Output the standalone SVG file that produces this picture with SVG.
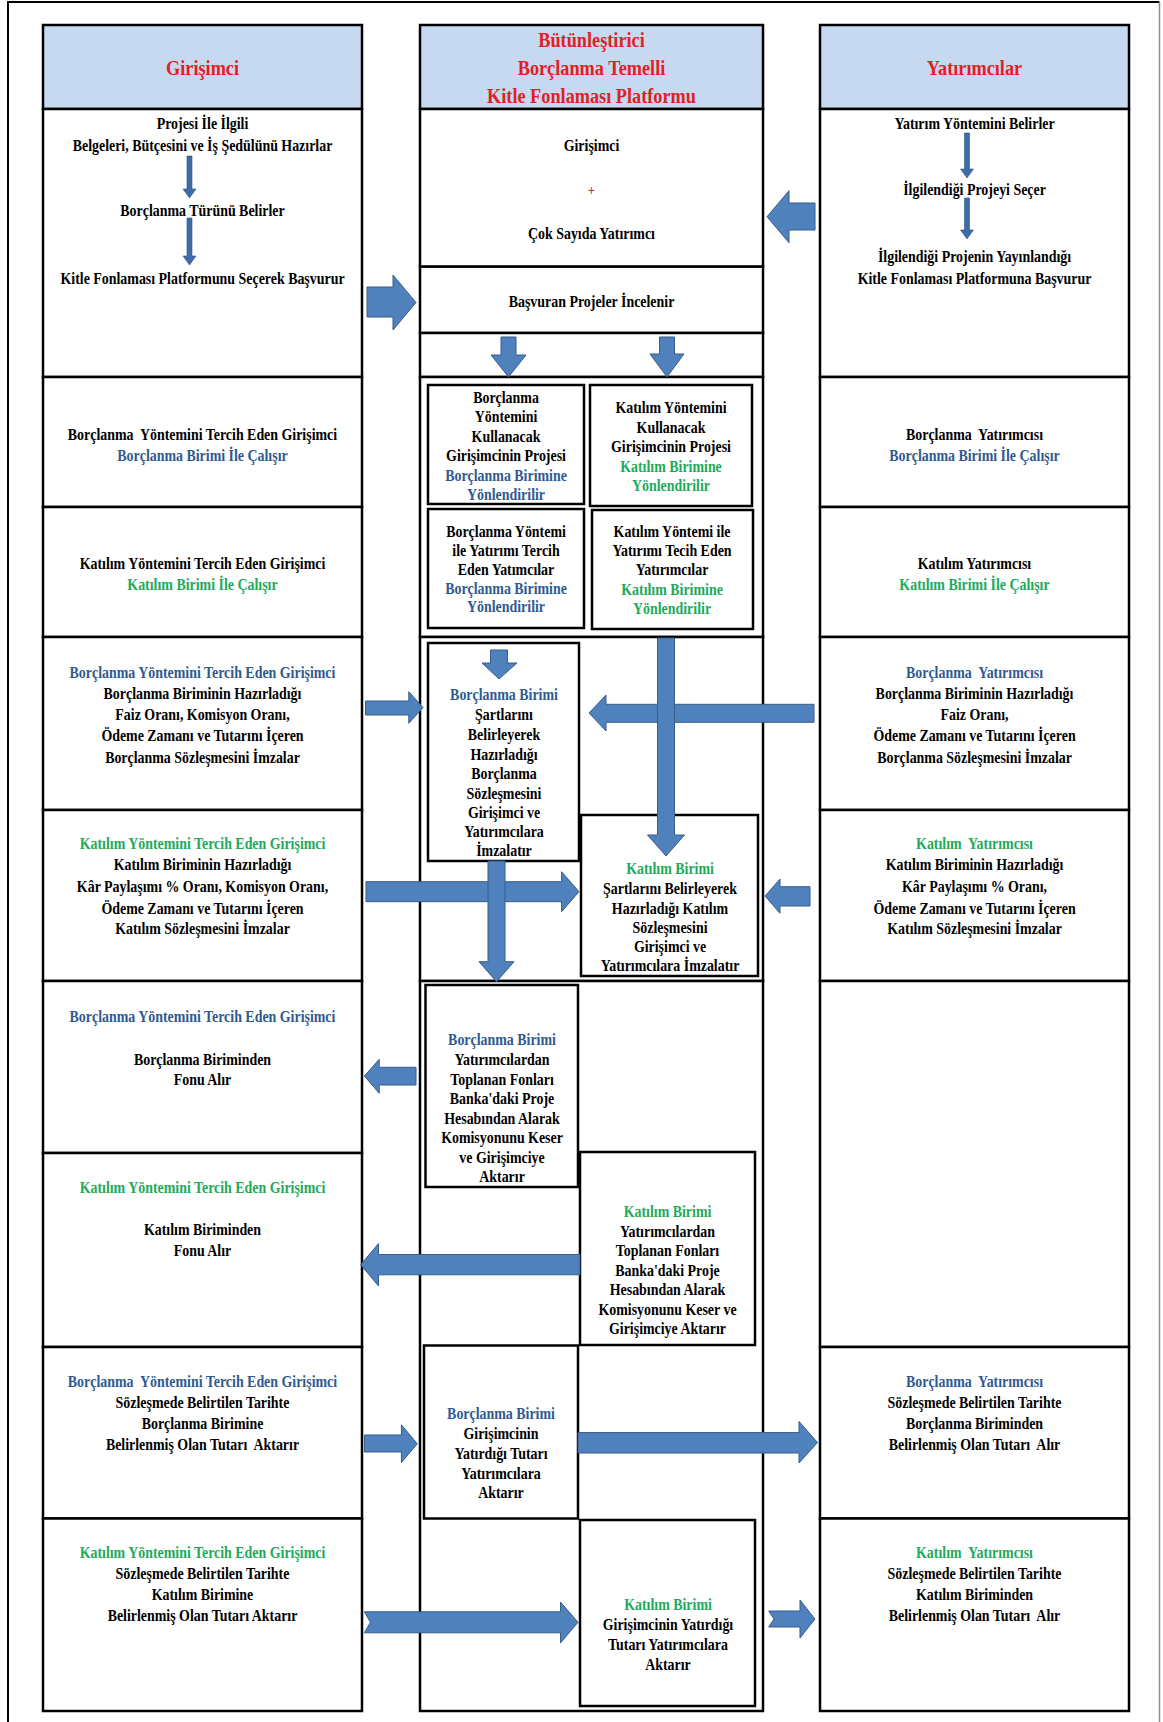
<svg xmlns="http://www.w3.org/2000/svg" width="1163" height="1722" viewBox="0 0 1163 1722">
<style>
.box{fill:#fff;stroke:#000;stroke-width:2.5}
.ibox{fill:#fff;stroke:#000;stroke-width:2.5}
.hdr{fill:#C6D9F1;stroke:#000;stroke-width:2.5}
.arr{fill:#4F81BD;stroke:#385D8A;stroke-width:1}
.thin{fill:#3D6CA6;stroke:#2F5687;stroke-width:0.6}
text{font-family:"Liberation Serif","Times New Roman",serif;font-weight:bold;font-size:16px;fill:#000;text-anchor:middle;transform-box:fill-box;transform-origin:center;transform:scaleX(0.87)}
.h{font-size:21px;fill:#E31E24}
.plus{font-size:14px;fill:#E31E24}
.b{fill:#2F5A8F}
.g{fill:#1DAA5C}
</style>
<rect width="1163" height="1722" fill="#fff"/>
<path d="M8 1722V2H1159.5" fill="none" stroke="#000" stroke-width="2"/>
<path d="M1159.5 2V1722" fill="none" stroke="#8c8c8c" stroke-width="1.5"/>

<g id="left-col">
<g id="left-header"><rect class="hdr" x="43" y="25" width="319" height="84"/><text class="h" x="202.5" y="75.5">Girişimci</text></g>
<g id="left-r1"><rect class="box" x="43" y="109" width="319" height="268"/>
<text><tspan x="202.5" y="129.5">Projesi İle İlgili</tspan><tspan x="202.5" y="151">Belgeleri, Bütçesini ve İş Şedülünü Hazırlar</tspan><tspan x="202.5" y="216">Borçlanma Türünü Belirler</tspan><tspan x="202.5" y="284">Kitle Fonlaması Platformunu Seçerek Başvurur</tspan></text></g>
<g id="left-r2"><rect class="box" x="43" y="377" width="319" height="130"/>
<text><tspan x="202.5" y="440.5">Borçlanma&#160; Yöntemini Tercih Eden Girişimci</tspan><tspan class="b" x="202.5" y="461.5">Borçlanma Birimi İle Çalışır</tspan></text></g>
<g id="left-r3"><rect class="box" x="43" y="507" width="319" height="130"/>
<text><tspan x="202.5" y="569">Katılım Yöntemini Tercih Eden Girişimci</tspan><tspan class="g" x="202.5" y="590">Katılım Birimi İle Çalışır</tspan></text></g>
<g id="left-r4"><rect class="box" x="43" y="637" width="319" height="173"/>
<text><tspan class="b" x="202.5" y="678">Borçlanma Yöntemini Tercih Eden Girişimci</tspan><tspan x="202.5" y="699">Borçlanma Biriminin Hazırladığı</tspan><tspan x="202.5" y="720.5">Faiz Oranı, Komisyon Oranı,</tspan><tspan x="202.5" y="741.5">Ödeme Zamanı ve Tutarını İçeren</tspan><tspan x="202.5" y="763">Borçlanma Sözleşmesini İmzalar</tspan></text></g>
<g id="left-r5"><rect class="box" x="43" y="810" width="319" height="171"/>
<text><tspan class="g" x="202.5" y="849">Katılım Yöntemini Tercih Eden Girişimci</tspan><tspan x="202.5" y="870.5">Katılım Biriminin Hazırladığı</tspan><tspan x="202.5" y="892">Kâr Paylaşımı % Oranı, Komisyon Oranı,</tspan><tspan x="202.5" y="914">Ödeme Zamanı ve Tutarını İçeren</tspan><tspan x="202.5" y="934.5">Katılım Sözleşmesini İmzalar</tspan></text></g>
<g id="left-r6"><rect class="box" x="43" y="981" width="319" height="172"/>
<text><tspan class="b" x="202.5" y="1022">Borçlanma Yöntemini Tercih Eden Girişimci</tspan><tspan x="202.5" y="1065">Borçlanma Biriminden</tspan><tspan x="202.5" y="1085.5">Fonu Alır</tspan></text></g>
<g id="left-r7"><rect class="box" x="43" y="1153" width="319" height="194"/>
<text><tspan class="g" x="202.5" y="1193">Katılım Yöntemini Tercih Eden Girişimci</tspan><tspan x="202.5" y="1235.5">Katılım Biriminden</tspan><tspan x="202.5" y="1256.5">Fonu Alır</tspan></text></g>
<g id="left-r8"><rect class="box" x="43" y="1347" width="319" height="171.5"/>
<text><tspan class="b" x="202.5" y="1387">Borçlanma&#160; Yöntemini Tercih Eden Girişimci</tspan><tspan x="202.5" y="1408.5">Sözleşmede Belirtilen Tarihte</tspan><tspan x="202.5" y="1429.5">Borçlanma Birimine</tspan><tspan x="202.5" y="1450.5">Belirlenmiş Olan Tutarı&#160; Aktarır</tspan></text></g>
<g id="left-r9"><rect class="box" x="43" y="1518.5" width="319" height="192.5"/>
<text><tspan class="g" x="202.5" y="1558">Katılım Yöntemini Tercih Eden Girişimci</tspan><tspan x="202.5" y="1579.5">Sözleşmede Belirtilen Tarihte</tspan><tspan x="202.5" y="1600">Katılım Birimine</tspan><tspan x="202.5" y="1621.5">Belirlenmiş Olan Tutarı Aktarır</tspan></text></g>
</g>

<g id="mid-col">
<g id="mid-header"><rect class="hdr" x="420" y="25" width="343" height="84"/>
<text class="h"><tspan x="591.5" y="47">Bütünleştirici</tspan><tspan x="591.5" y="75.5">Borçlanma Temelli</tspan><tspan x="591.5" y="103">Kitle Fonlaması Platformu</tspan></text></g>
<g id="mid-platform"><rect class="box" x="420" y="109" width="343" height="157.7"/>
<text><tspan x="591.5" y="151">Girişimci</tspan><tspan class="plus" x="591.5" y="195">+</tspan><tspan x="591.5" y="239">Çok Sayıda Yatırımcı</tspan></text></g>
<g id="mid-review"><rect class="box" x="420" y="266.7" width="343" height="66.3"/>
<text x="591.5" y="307">Başvuran Projeler İncelenir</text></g>
<g id="mid-split"><rect class="box" x="420" y="333" width="343" height="44"/></g>
<g id="mid-frame2"><rect class="box" x="420" y="377" width="343" height="260"/></g>
<g id="mid-b-project"><rect class="ibox" x="428" y="385" width="156" height="119"/>
<text><tspan x="506" y="403">Borçlanma</tspan><tspan x="506" y="422">Yöntemini</tspan><tspan x="506" y="442">Kullanacak</tspan><tspan x="506" y="461.5">Girişimcinin Projesi</tspan><tspan class="b" x="506" y="481.5">Borçlanma Birimine</tspan><tspan class="b" x="506" y="500.5">Yönlendirilir</tspan></text></g>
<g id="mid-k-project"><rect class="ibox" x="590" y="385" width="162" height="121"/>
<text><tspan x="671" y="413">Katılım Yöntemini</tspan><tspan x="671" y="433">Kullanacak</tspan><tspan x="671" y="452">Girişimcinin Projesi</tspan><tspan class="g" x="671" y="472">Katılım Birimine</tspan><tspan class="g" x="671" y="491.5">Yönlendirilir</tspan></text></g>
<g id="mid-b-investor"><rect class="ibox" x="428" y="509" width="156" height="119"/>
<text><tspan x="506" y="537">Borçlanma Yöntemi</tspan><tspan x="506" y="556">ile Yatırımı Tercih</tspan><tspan x="506" y="575">Eden Yatımcılar</tspan><tspan class="b" x="506" y="594">Borçlanma Birimine</tspan><tspan class="b" x="506" y="612">Yönlendirilir</tspan></text></g>
<g id="mid-k-investor"><rect class="ibox" x="592" y="510" width="161" height="119"/>
<text><tspan x="672" y="537">Katılım Yöntemi ile</tspan><tspan x="672" y="556.5">Yatırımı Tecih Eden</tspan><tspan x="672" y="575.5">Yatırımcılar</tspan><tspan class="g" x="672" y="595">Katılım Birimine</tspan><tspan class="g" x="672" y="614">Yönlendirilir</tspan></text></g>
<g id="mid-frame3"><rect class="box" x="420" y="637" width="343" height="344"/></g>
<g id="mid-b-contract"><rect class="ibox" x="428" y="643" width="151" height="218"/>
<text><tspan class="b" x="504" y="700.5">Borçlanma Birimi</tspan><tspan x="504" y="720.5">Şartlarını</tspan><tspan x="504" y="740.5">Belirleyerek</tspan><tspan x="504" y="760">Hazırladığı</tspan><tspan x="504" y="779.5">Borçlanma</tspan><tspan x="504" y="799">Sözleşmesini</tspan><tspan x="504" y="818.5">Girişimci ve</tspan><tspan x="504" y="837.5">Yatırımcılara</tspan><tspan x="504" y="856.5">İmzalatır</tspan></text></g>
<g id="mid-k-contract"><rect class="ibox" x="581" y="815" width="177" height="161"/>
<text><tspan class="g" x="670" y="874">Katılım Birimi</tspan><tspan x="670" y="894">Şartlarını Belirleyerek</tspan><tspan x="670" y="914">Hazırladığı Katılım</tspan><tspan x="670" y="933">Sözleşmesini</tspan><tspan x="670" y="952">Girişimci ve</tspan><tspan x="670" y="971.5">Yatırımcılara İmzalatır</tspan></text></g>
<g id="mid-frame4"><rect class="box" x="420" y="981" width="343" height="730"/></g>
<g id="mid-b-fund"><rect class="ibox" x="425.5" y="985" width="152.5" height="202"/>
<text><tspan class="b" x="502" y="1045">Borçlanma Birimi</tspan><tspan x="502" y="1065">Yatırımcılardan</tspan><tspan x="502" y="1085">Toplanan Fonları</tspan><tspan x="502" y="1104.5">Banka'daki Proje</tspan><tspan x="502" y="1124">Hesabından Alarak</tspan><tspan x="502" y="1143">Komisyonunu Keser</tspan><tspan x="502" y="1163">ve Girişimciye</tspan><tspan x="502" y="1182">Aktarır</tspan></text></g>
<g id="mid-k-fund"><rect class="ibox" x="580" y="1152" width="175" height="193"/>
<text><tspan class="g" x="667.5" y="1217.5">Katılım Birimi</tspan><tspan x="667.5" y="1237">Yatırımcılardan</tspan><tspan x="667.5" y="1256.5">Toplanan Fonları</tspan><tspan x="667.5" y="1276">Banka'daki Proje</tspan><tspan x="667.5" y="1295">Hesabından Alarak</tspan><tspan x="667.5" y="1315">Komisyonunu Keser ve</tspan><tspan x="667.5" y="1334">Girişimciye Aktarır</tspan></text></g>
<g id="mid-b-repay"><rect class="ibox" x="424" y="1345.5" width="154" height="173"/>
<text><tspan class="b" x="501" y="1419.5">Borçlanma Birimi</tspan><tspan x="501" y="1439">Girişimcinin</tspan><tspan x="501" y="1459">Yatırdığı Tutarı</tspan><tspan x="501" y="1479">Yatırımcılara</tspan><tspan x="501" y="1498">Aktarır</tspan></text></g>
<g id="mid-k-repay"><rect class="ibox" x="580" y="1520" width="175" height="186"/>
<text><tspan class="g" x="668" y="1610">Katılım Birimi</tspan><tspan x="668" y="1630.5">Girişimcinin Yatırdığı</tspan><tspan x="668" y="1650">Tutarı Yatırımcılara</tspan><tspan x="668" y="1670">Aktarır</tspan></text></g>
</g>

<g id="right-col">
<g id="right-header"><rect class="hdr" x="820" y="25" width="309" height="84"/><text class="h" x="974.5" y="75.5">Yatırımcılar</text></g>
<g id="right-r1"><rect class="box" x="820" y="109" width="309" height="268"/>
<text><tspan x="974.5" y="129.5">Yatırım Yöntemini Belirler</tspan><tspan x="974.5" y="195.5">İlgilendiği Projeyi Seçer</tspan><tspan x="974.5" y="262">İlgilendiği Projenin Yayınlandığı</tspan><tspan x="974.5" y="284">Kitle Fonlaması Platformuna Başvurur</tspan></text></g>
<g id="right-r2"><rect class="box" x="820" y="377" width="309" height="130"/>
<text><tspan x="974.5" y="440.5">Borçlanma&#160; Yatırımcısı</tspan><tspan class="b" x="974.5" y="461.5">Borçlanma Birimi İle Çalışır</tspan></text></g>
<g id="right-r3"><rect class="box" x="820" y="507" width="309" height="130"/>
<text><tspan x="974.5" y="569">Katılım Yatırımcısı</tspan><tspan class="g" x="974.5" y="590">Katılım Birimi İle Çalışır</tspan></text></g>
<g id="right-r4"><rect class="box" x="820" y="637" width="309" height="173"/>
<text><tspan class="b" x="974.5" y="678">Borçlanma&#160; Yatırımcısı</tspan><tspan x="974.5" y="699">Borçlanma Biriminin Hazırladığı</tspan><tspan x="974.5" y="720.5">Faiz Oranı,</tspan><tspan x="974.5" y="741.5">Ödeme Zamanı ve Tutarını İçeren</tspan><tspan x="974.5" y="763">Borçlanma Sözleşmesini İmzalar</tspan></text></g>
<g id="right-r5"><rect class="box" x="820" y="810" width="309" height="171"/>
<text><tspan class="g" x="974.5" y="849">Katılım&#160; Yatırımcısı</tspan><tspan x="974.5" y="870.5">Katılım Biriminin Hazırladığı</tspan><tspan x="974.5" y="892">Kâr Paylaşımı % Oranı,</tspan><tspan x="974.5" y="914">Ödeme Zamanı ve Tutarını İçeren</tspan><tspan x="974.5" y="934.5">Katılım Sözleşmesini İmzalar</tspan></text></g>
<g id="right-r6"><rect class="box" x="820" y="981" width="309" height="366"/></g>
<g id="right-r8"><rect class="box" x="820" y="1347" width="309" height="171.5"/>
<text><tspan class="b" x="974.5" y="1387">Borçlanma&#160; Yatırımcısı</tspan><tspan x="974.5" y="1408.5">Sözleşmede Belirtilen Tarihte</tspan><tspan x="974.5" y="1429.5">Borçlanma Biriminden</tspan><tspan x="974.5" y="1450.5">Belirlenmiş Olan Tutarı&#160; Alır</tspan></text></g>
<g id="right-r9"><rect class="box" x="820" y="1518.5" width="309" height="192.5"/>
<text><tspan class="g" x="974.5" y="1558">Katılım&#160; Yatırımcısı</tspan><tspan x="974.5" y="1579.5">Sözleşmede Belirtilen Tarihte</tspan><tspan x="974.5" y="1600">Katılım Biriminden</tspan><tspan x="974.5" y="1621.5">Belirlenmiş Olan Tutarı&#160; Alır</tspan></text></g>
</g>

<g id="connectors">
<polygon class="thin" points="187,156 192,156 192,189 196,189 189.5,198 183,189 187,189"/>
<polygon class="thin" points="187,218 192,218 192,256 196,256 189.5,265 183,256 187,256"/>
<polygon class="thin" points="964.5,133 969.5,133 969.5,169 973.5,169 967,178 960.5,169 964.5,169"/>
<polygon class="thin" points="964.5,198 969.5,198 969.5,230 973.5,230 967,239 960.5,230 964.5,230"/>
<polygon class="arr" points="367,287 393,287 393,275 416,302.5 393,330 393,317 367,317"/>
<polygon class="arr" points="815,203 789,203 789,190.7 767,216.7 789,242.7 789,230 815,230"/>
<polygon class="arr" points="501,337 516,337 516,355 526,355 508.5,377 491,355 501,355"/>
<polygon class="arr" points="659.5,337 674.5,337 674.5,354 684,354 667,377 650,354 659.5,354"/>
<polygon class="arr" points="490.5,650 507.5,650 507.5,663 517,663 499,679 482,663 490.5,663"/>
<polygon class="arr" points="814,704.3 606,704.3 606,695 589,713 606,731 606,722.3 814,722.3"/>
<polygon class="arr" points="657.5,638 674.5,638 674.5,835 684.5,835 666,856 647.5,835 657.5,835"/>
<polygon class="arr" points="365.5,701 408.8,701 408.8,691.7 423,707.5 408.8,723.3 408.8,715 365.5,715"/>
<polygon class="arr" points="366,881.7 561.6,881.7 561.6,871.7 579,891.7 561.6,911.7 561.6,901.7 366,901.7"/>
<polygon class="arr" points="488,861 505,861 505,961.7 514,961.7 496.5,981.7 479,961.7 488,961.7"/>
<polygon class="arr" points="810,886.7 780,886.7 780,879 765,896 780,913.3 780,906 810,906"/>
<polygon class="arr" points="416,1067.3 379.2,1067.3 379.2,1059.3 364.4,1076 379.2,1093.3 379.2,1085 416,1085"/>
<polygon class="arr" points="580,1254.5 378.5,1254.5 378.5,1243.6 360.7,1264.7 378.5,1286 378.5,1274.8 580,1274.8"/>
<polygon class="arr" points="364.4,1435 401.4,1435 401.4,1424.8 417.3,1443.8 401.4,1462.5 401.4,1452 364.4,1452"/>
<polygon class="arr" points="578,1432.6 799,1432.6 799,1421.4 817.5,1442.5 799,1463 799,1453 578,1453"/>
<polygon class="arr" points="364.4,1611.8 560.5,1611.8 560.5,1602 578,1622.3 560.5,1643 560.5,1632.8 364.4,1632.8 370.4,1622.3"/>
<polygon class="arr" points="768.7,1611 800,1611 800,1600 815,1619 800,1638 800,1627 768.7,1627 774,1619"/>
</g>
</svg>
